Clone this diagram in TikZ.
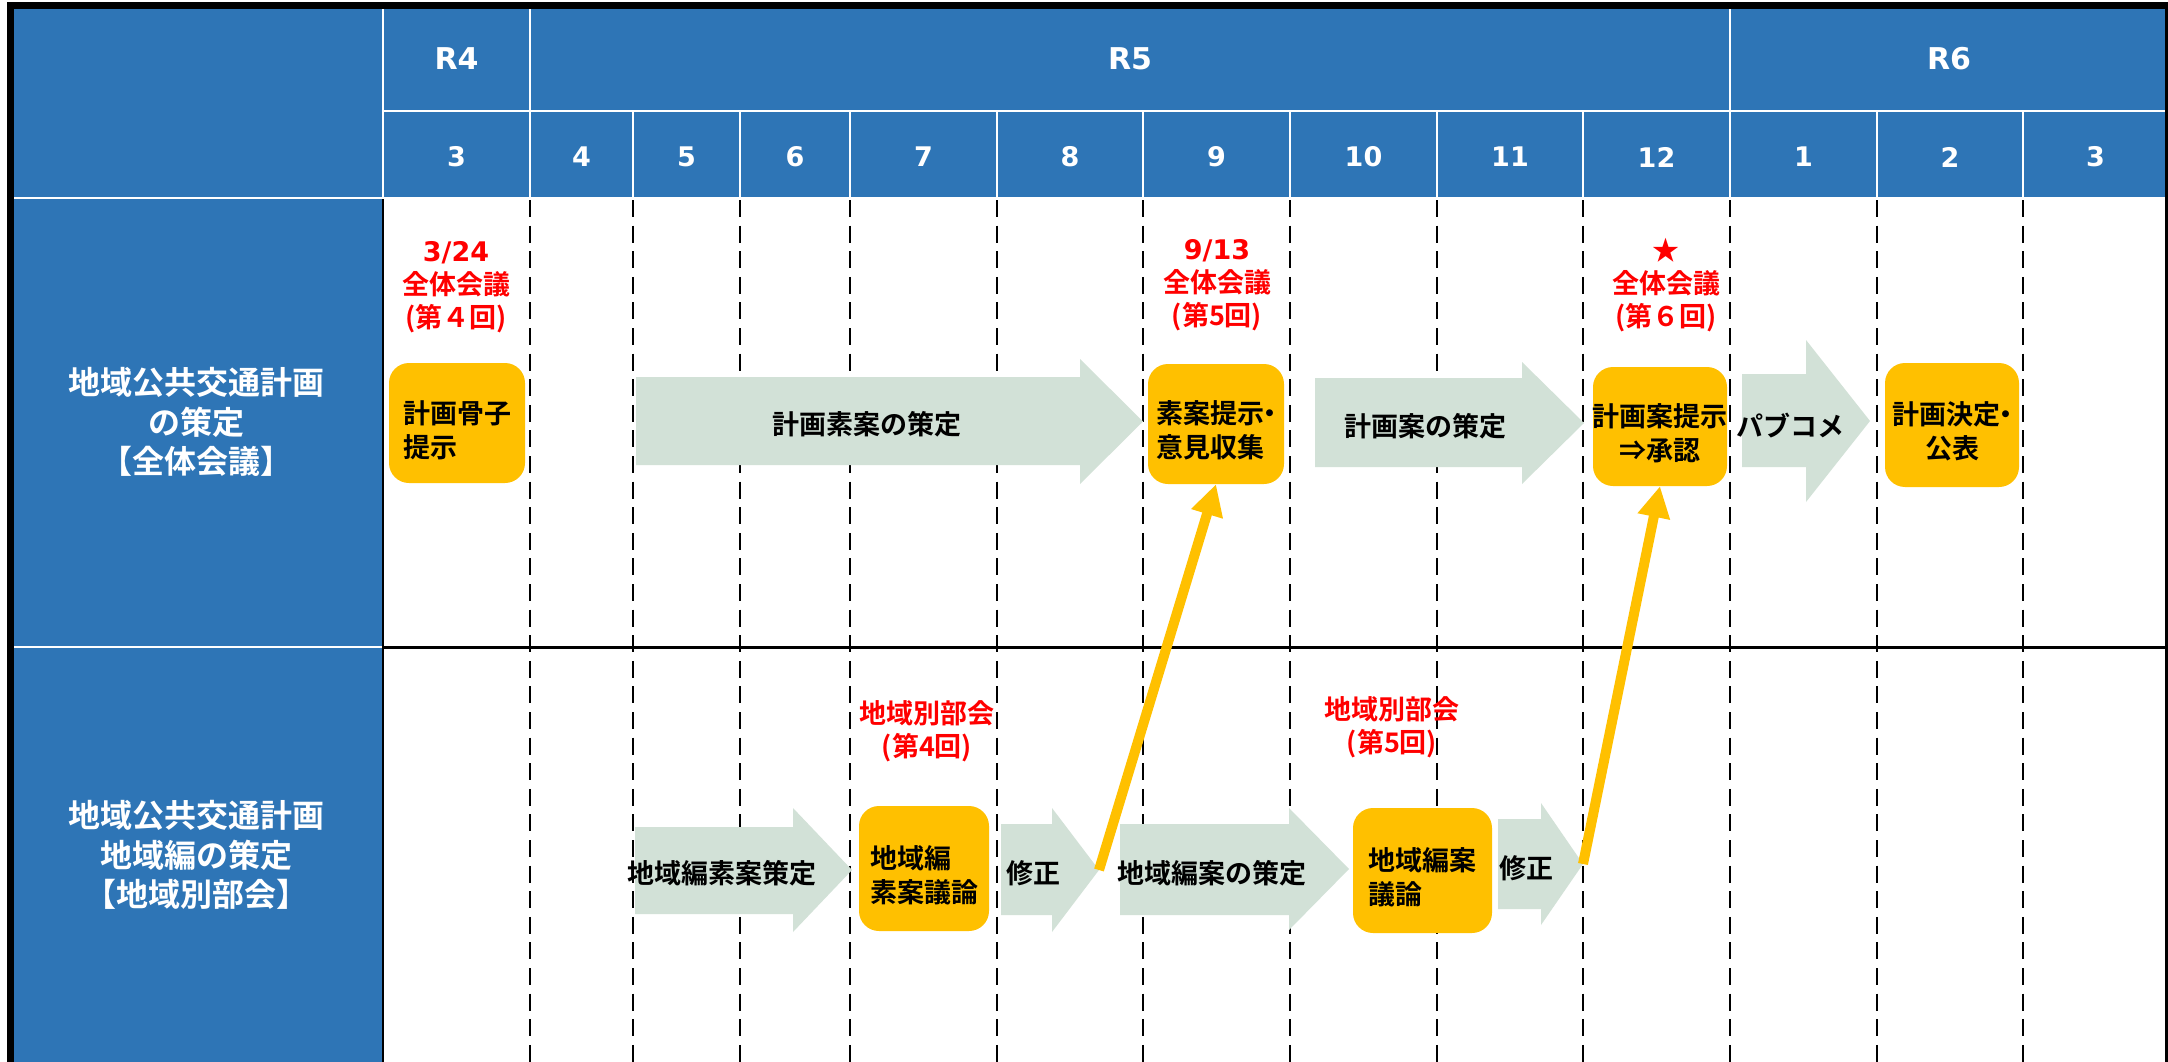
\documentclass[tikz,border=0pt]{standalone}
\usepackage{fontspec}
\newfontfamily\jpf{Noto Sans CJK JP}[BoldFont={Noto Sans CJK JP Bold}]
\newfontfamily\dvf{DejaVu Sans}
\usetikzlibrary{arrows.meta}
\definecolor{hdrblue}{RGB}{46,117,182}
\definecolor{boxorange}{RGB}{255,192,0}
\definecolor{arrgreen}{RGB}{210,225,215}
\definecolor{lblred}{RGB}{255,0,0}
\newcommand\GrArrow[8]{%
  \fill[arrgreen] (#1,#4) -- (#2,#4) -- (#2,#6) -- (#3,{(#6+#7)/2}) -- (#2,#7) -- (#2,#5) -- (#1,#5) -- cycle;
  \coordinate (#8) at (#3,{(#6+#7)/2});}
\tikzset{
  gridwhite/.style={white, line width=2.5pt},
  monthdash/.style={black, line width=2.5pt, dash pattern=on 17pt off 8.6pt},
  yearlbl/.style={text=white, inner sep=0pt, font=\dvf\bfseries\fontsize{30pt}{36pt}\selectfont},
  monthlbl/.style={text=white, inner sep=0pt, font=\dvf\bfseries\fontsize{27pt}{32pt}\selectfont},
  lefttext/.style={text=white, inner sep=0pt, align=center, font=\jpf\bfseries\fontsize{32pt}{39.5pt}\selectfont},
  obox/.style={fill=boxorange, rounded corners=20pt, draw=none, inner sep=0pt},
  otext/.style={text=black, inner sep=0pt, font=\jpf\bfseries\fontsize{27pt}{34pt}\selectfont},
  atext/.style={text=black, inner sep=0pt, font=\jpf\bfseries\fontsize{27pt}{34pt}\selectfont},
  redlbl/.style={text=lblred, inner sep=0pt, align=center, font=\jpf\bfseries\fontsize{27pt}{33pt}\selectfont},
  conn/.style={draw=boxorange, line width=10pt, -{Triangle[length=31pt,width=31pt]}},
}
\begin{document}
\begin{tikzpicture}[x=1pt,y=-1pt]
\useasboundingbox (0,0) rectangle (2168,1062);
\fill[white] (0,0) rectangle (2168,1062);
% blue areas
\fill[hdrblue] (13,9) rectangle (2168,198);
\fill[hdrblue] (13,198) rectangle (383,1062);
% header grid
\foreach \x in {383,530,1730} \draw[gridwhite] (\x,9) -- (\x,198);
\foreach \x in {633,740,850,997,1143,1290,1437,1583,1877,2023} \draw[gridwhite] (\x,111) -- (\x,198);
\draw[gridwhite] (383,111) -- (2168,111);
\draw[gridwhite] (13,198) -- (2168,198);
\draw[gridwhite] (13,647) -- (383,647);
% body grid
\foreach \x in {530,633,740,850,997,1143,1290,1437,1583,1730,1877,2023} \draw[monthdash] (\x,200) -- (\x,1062);
\draw[black, line width=2.5pt] (383,199) -- (383,1062);
\draw[black, line width=3pt] (383,647) -- (2168,647);
% header labels
\node[yearlbl] (r4) at (456.5,59) {R4};
\node[yearlbl] (r5) at (1130,59) {R5};
\node[yearlbl] (r6) at (1949,59) {R6};
\foreach \m/\x [count=\i] in {3/456.5,4/581.5,5/686.5,6/795,7/923.5,8/1070,9/1216.5,10/1363.5,11/1510,12/1656.5,1/1803.5,2/1950,3/2095.5}
  \node[monthlbl] (m\i) at (\x,157) {\m};
% left column
\node[lefttext] (lt1) at (196,422) {地域公共交通計画\\の策定\\【全体会議】};
\node[lefttext] (lt2) at (196,855) {地域公共交通計画\\地域編の策定\\【地域別部会】};
% green arrows row 1
\GrArrow{636}{1080}{1143}{377}{465}{359}{484}{a1tip}
\GrArrow{1315}{1522}{1584}{378}{467}{362}{484}{a2tip}
\GrArrow{1742}{1806}{1870}{374}{467}{340}{502}{a3tip}
\node[atext] (a1t) at (867,424) {計画素案の策定};
\node[atext] (a2t) at (1425,426) {計画案の策定};
\node[atext] (a3t) at (1790,426) {パブコメ};
% green arrows row 2
\GrArrow{635}{793}{852}{827}{914}{808}{932}{b1tip}
\GrArrow{1001}{1052}{1099}{824}{915}{808}{932}{b2tip}
\GrArrow{1120}{1289}{1349}{824}{915}{808}{930}{b3tip}
\GrArrow{1498}{1541}{1583}{819}{909}{803}{925}{b4tip}
\node[atext] (b1t) at (722,873) {地域編素案策定};
\node[atext] (b2t) at (1033,873) {修正};
\node[atext] (b3t) at (1212,873) {地域編案の策定};
\node[atext] (b4t) at (1526,868) {修正};
% orange boxes
\node[obox, minimum width=136pt, minimum height=120pt] (o1) at (457,423) {};
\node[obox, minimum width=136pt, minimum height=120pt] (o2) at (1216,424) {};
\node[obox, minimum width=134pt, minimum height=119pt] (o3) at (1660,426.5) {};
\node[obox, minimum width=134pt, minimum height=124pt] (o4) at (1952,425) {};
\node[obox, minimum width=130pt, minimum height=125pt] (o5) at (924,868.5) {};
\node[obox, minimum width=139pt, minimum height=125pt] (o6) at (1422.5,870.5) {};
\node[otext, align=left] (o1t) at (457,430) {計画骨子\\提示};
\node[otext, align=left] (o2t) at (1216,430.5) {素案提示\makebox[12pt]{・}\\意見収集};
\node[otext, align=center] (o3t) at (1660,433.5) {計画案提示\\⇒承認};
\node[otext, align=center] (o4t) at (1952,431.5) {計画決定\makebox[12pt]{・}\\公表};
\node[otext, align=left] (o5t) at (924,875.5) {地域編\\素案議論};
\node[otext, align=left] (o6t) at (1422,877) {地域編案\\議論};
% red labels
\node[redlbl] (l1) at (456,287) {{\dvf\bfseries 3/24}\\全体会議\\(第４回)};
\node[redlbl] (l2) at (1217,285) {{\dvf\bfseries 9/13}\\全体会議\\(第5回)};
\node[redlbl] (l3) at (1666,285) {★\\全体会議\\(第６回)};
\node[redlbl] (l4) at (927,731) {地域別部会\\(第4回)};
\node[redlbl] (l5) at (1392,727) {地域別部会\\(第5回)};
% connectors
\draw[conn] (b2tip) -- (o2.south);
\draw[conn] (b4tip) -- (o3.south);
% frame
\draw[black, line width=7pt] (10,1080) -- (10,6) -- (2168.5,6) -- (2168.5,1080);
\end{tikzpicture}
\end{document}
